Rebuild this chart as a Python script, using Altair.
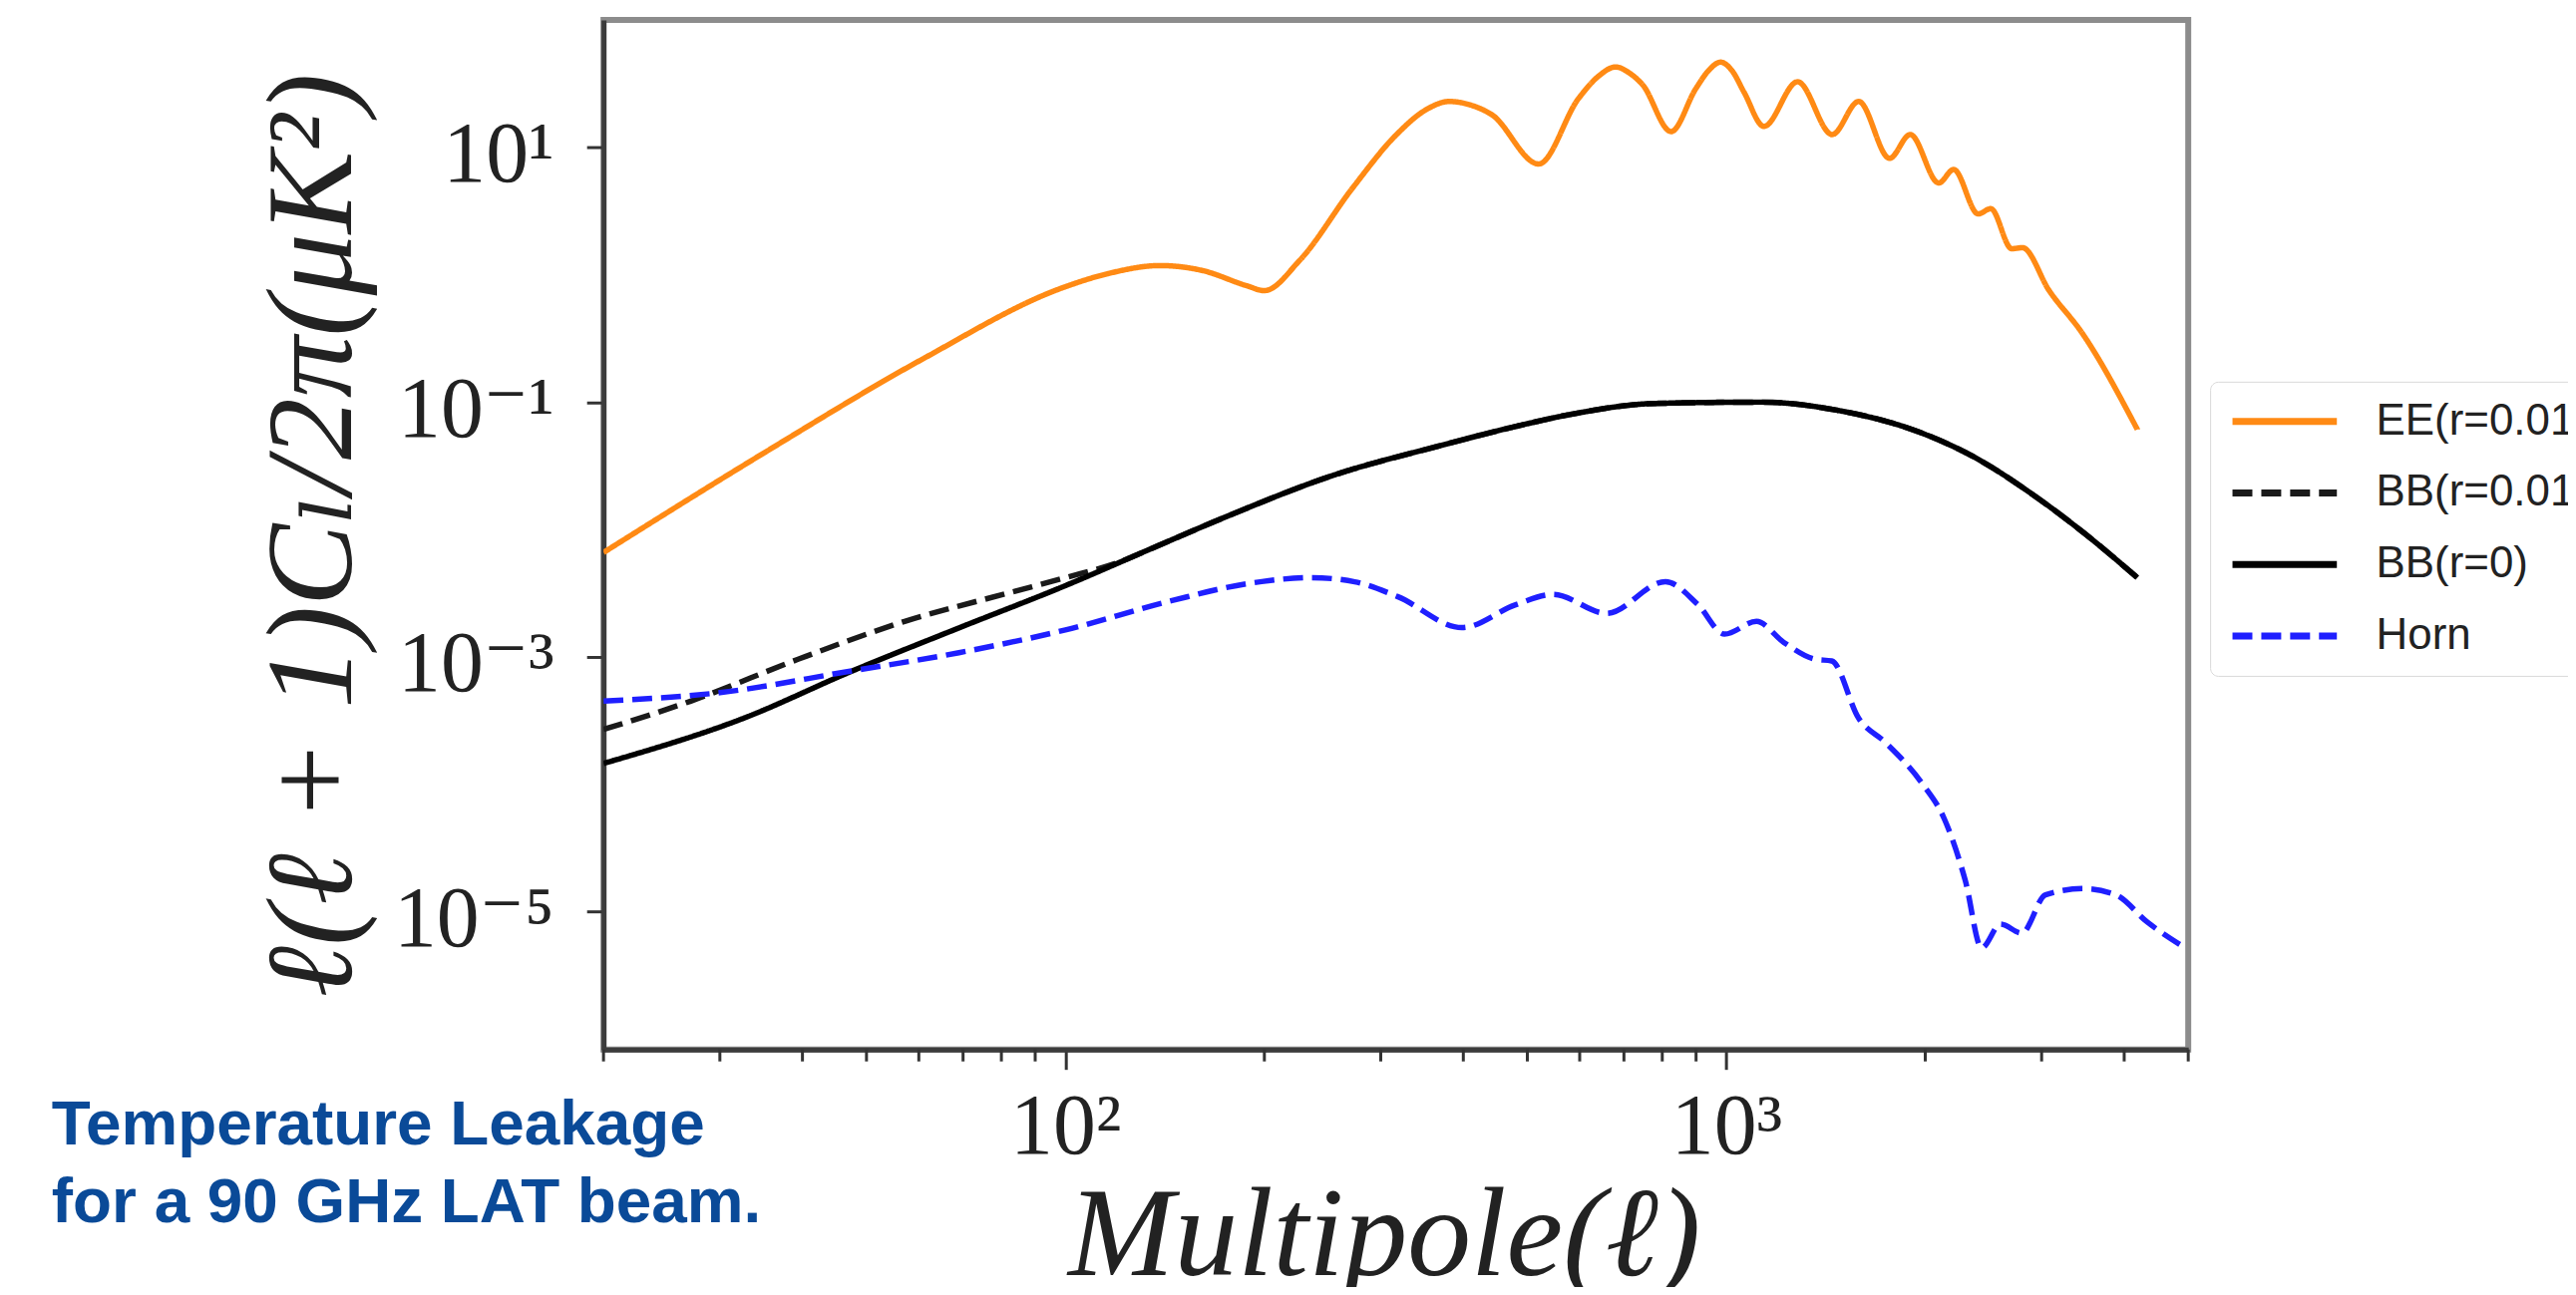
import math
import altair as alt
import pandas as pd

# ---------------- data ----------------
ell_ee = [20, 35, 61, 99, 116, 139, 161, 188, 200, 226, 272, 317, 350, 381, 410, 442,
          520, 597, 640, 680, 715, 747, 825, 899, 940, 980, 1020, 1064, 1140, 1282, 1446,
          1586, 1766, 1898, 2096, 2208, 2405, 2513, 2703, 2806, 3080, 3453, 4188]
ee_vals = [0.0066, 0.040, 0.22, 0.79, 1.02, 1.18, 1.08, 0.82, 0.75, 1.29, 4.8, 12.6,
           19.5, 22.9, 21.5, 18.0, 7.4, 24.0, 36.0, 42.7, 38.0, 31.0, 13.3, 28.8, 40.0, 46.6,
           40.0, 27.0, 14.6, 32.7, 12.6, 22.9, 8.2, 12.6, 5.25, 6.7, 3.0, 3.3, 1.6, 1.63, 0.75,
           0.35, 0.061]

ell_bb01 = [20, 27.1, 39.4, 57.1, 83, 100, 120, 140, 175, 254, 370, 481, 579, 780, 1132,
            1469, 1983, 2389, 2876, 3468, 4188]
bb01_vals = [2.7e-4, 4.5e-4, 9.6e-4, 1.9e-3, 3.23e-3, 4.19e-3, 5.5e-3, 7.7e-3, 0.0126, 0.0266,
             0.0457, 0.0646, 0.0798, 0.0977, 0.100, 0.0865, 0.0568, 0.0363, 0.0196, 0.0095,
             4.19e-3]

ell_bb0 = [20, 32.7, 47.4, 69, 100, 140, 175, 254, 370, 481, 579, 780, 1132, 1469, 1983,
           2389, 2876, 3468, 4188]
bb0_vals = [1.46e-4, 3.33e-4, 7.7e-4, 1.69e-3, 3.63e-3, 7.7e-3, 0.0126, 0.0266, 0.0457,
            0.0646, 0.0798, 0.0977, 0.100, 0.0865, 0.0568, 0.0363, 0.0196, 0.0095, 4.19e-3]

ell_horn = [20, 30, 47, 69, 100, 145, 189, 236, 274, 318, 398, 480, 547, 659, 809, 906, 994,
            1111, 1222, 1362, 1444, 1586, 1741, 1983, 2136, 2300, 2434, 2600, 2800, 3040,
            3468, 3882, 4335, 4950]
horn_vals = [4.5e-4, 5.25e-4, 7.7e-4, 1.08e-3, 1.63e-3, 2.77e-3, 3.77e-3, 4.19e-3, 3.89e-3,
             2.98e-3, 1.7e-3, 2.57e-3, 3.1e-3, 2.2e-3, 3.9e-3, 2.57e-3, 1.51e-3, 1.9e-3,
             1.3e-3, 9.6e-4, 9.3e-4, 3.3e-4, 2.13e-4, 1.0e-4, 5.4e-5, 1.75e-5, 5.2e-6, 8.0e-6,
             6.8e-6, 1.36e-5, 1.52e-5, 1.36e-5, 8.3e-6, 5.2e-6]

series_names = ["EE(r=0.01)", "BB(r=0.01)", "BB(r=0)", "Horn"]
series_colors = ["#ff8a14", "#1a1a1a", "#000000", "#1f1fff"]
series_dash = [[1, 0], [20, 9], [1, 0], [20, 9]]

x_major = [100, 1000]
x_minor = [20, 30, 40, 50, 60, 70, 80, 90, 200, 300, 400, 500, 600, 700, 800, 900,
           2000, 3000, 4000, 5000]
y_major = [10, 0.1, 0.001, 1e-5]

note_lines = ["Temperature Leakage", "for a 90 GHz LAT beam."]

# ---------------- build tables ----------------
rows = []
for name, ells, vals in zip(series_names,
                            [ell_ee, ell_bb01, ell_bb0, ell_horn],
                            [ee_vals, bb01_vals, bb0_vals, horn_vals]):
    for l, v in zip(ells, vals):
        rows.append({"ell": l, "cl": v, "series": name})
df = pd.DataFrame(rows)

SUP = str.maketrans("-0123456789", "\u207b\u2070\u00b9\u00b2\u00b3\u2074\u2075\u2076\u2077\u2078\u2079")


def label_expr(values):
    parts = []
    for v in values:
        e = int(round(math.log10(v)))
        parts.append(f"round(log(datum.value)/LN10) == {e} ? '10{str(e).translate(SUP)}'")
    return " : ".join(parts) + " : ''"


SERIF = "Liberation Serif, DejaVu Serif, serif"
W, H = 1594, 1036

xscale = alt.Scale(type="log", domain=[20, 5000], nice=False)
yscale = alt.Scale(type="log", domain=[8.3e-7, 100], nice=False)

xaxis = alt.Axis(values=x_major, labelExpr=label_expr(x_major), grid=False,
                 tickSize=20, tickWidth=3, tickColor="#333333",
                 domainColor="#3c3c3c", domainWidth=5,
                 labelFont=SERIF, labelFontSize=86, labelColor="#222222",
                 labelPadding=16, labelFlush=False, labelOverlap=False,
                 title="Multipole(\u2113)", titleFont=SERIF, titleFontStyle="italic",
                 titleFontWeight="normal", titleFontSize=128, titleColor="#222222",
                 titleX=785, titleY=226, titleBaseline="alphabetic", titleAlign="center")

yaxis = alt.Axis(values=y_major, labelExpr=label_expr(y_major), grid=False,
                 tickSize=17, tickWidth=3, tickColor="#333333",
                 domainColor="#3c3c3c", domainWidth=5,
                 labelFont=SERIF, labelFontSize=86, labelColor="#222222",
                 labelPadding=33, labelOffset=8, labelFlush=False, labelOverlap=False,
                 title="\u2113(\u2113 + 1)C\u2097/2\u03c0(\u03bcK\u00b2)", titleFont=SERIF,
                 titleFontStyle="italic", titleFontWeight="normal", titleFontSize=124,
                 titleColor="#222222", titleAngle=270, titleX=-254, titleY=H / 2,
                 titleAlign="center", titleBaseline="alphabetic")

legend = alt.Legend(title=None, orient="none", legendX=1616, legendY=364,
                    symbolType="M-1,0H5", symbolSize=1225, symbolStrokeWidth=7,
                    symbolFillColor="transparent",
                    labelFont="Liberation Sans", labelFontSize=44, labelColor="#222222",
                    labelOffset=105, rowPadding=28, padding=18, labelLimit=600,
                    strokeColor="#d9d9d9", fillColor="#ffffff", cornerRadius=8)

lines = alt.Chart(df).mark_line(interpolate="monotone", clip=True, strokeWidth=5.5).encode(
    x=alt.X("ell:Q", scale=xscale, axis=xaxis),
    y=alt.Y("cl:Q", scale=yscale, axis=yaxis),
    color=alt.Color("series:N", scale=alt.Scale(domain=series_names, range=series_colors),
                    legend=legend),
    strokeDash=alt.StrokeDash("series:N", scale=alt.Scale(domain=series_names, range=series_dash),
                              legend=legend),
)

minor = alt.Chart(pd.DataFrame({"ell": x_minor})).mark_rule(color="#333333", strokeWidth=3).encode(
    x=alt.X("ell:Q", scale=xscale, axis=xaxis),
    y=alt.value(H),
    y2=alt.value(H + 12),
)

note = alt.Chart(pd.DataFrame({"a": [0]})).mark_text(
    align="left", baseline="alphabetic", lineBreak="\n", lineHeight=78,
    font="Liberation Sans", fontSize=64, fontWeight="bold", color="#0a4a98",
).encode(
    x=alt.value(-555), y=alt.value(1132), text=alt.value("\n".join(note_lines)),
)

chart = alt.layer(lines, minor, note).properties(
    width=W, height=H,
    autosize=alt.AutoSizeParams(type="none"),
    padding={"left": 599, "top": 10, "right": 382, "bottom": 237},
    background="#ffffff",
).configure_view(stroke="#8c8c8c", strokeWidth=6)

chart.save("out.html", embed_options={"renderer": "svg", "actions": False})
